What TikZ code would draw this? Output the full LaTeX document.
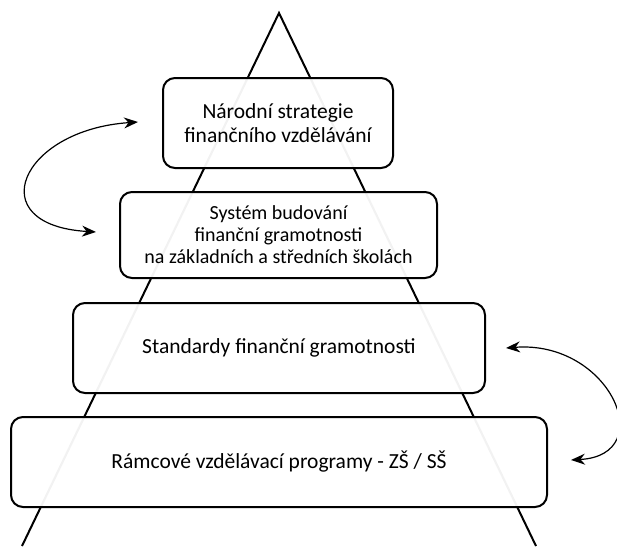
\documentclass[tikz,border=0pt]{standalone}
\usepackage{fontspec}
\setmainfont{Carlito}
\usetikzlibrary{arrows.meta}
\begin{document}
\begin{tikzpicture}[x=1pt,y=-1pt,
  level/.style={draw=black, line width=2pt, rounded corners=12pt, fill=white, fill opacity=0.95, text opacity=1, align=center, font=\fontsize{21.5}{24}\selectfont, inner sep=0pt},
  edge/.style={draw=black, line width=2pt},
  link/.style={draw=black, line width=1.2pt, {Stealth[length=14pt,width=11pt]}-{Stealth[length=14pt,width=11pt]}}]
\useasboundingbox (0,0) rectangle (617,546);
\coordinate (apex) at (279,13);
\coordinate (bl) at (22,546);
\coordinate (br) at (536,546);
\draw[edge] (bl) -- (apex) -- (br);
\node[level, minimum width=230pt, minimum height=90pt] (n1) at (278,123) {Národní strategie\\finančního vzdělávání};
\node[level, minimum width=317pt, minimum height=86pt, font=\fontsize{20}{22}\selectfont] (n2) at (278.5,235) {Systém budování\\finanční gramotnosti\\na základních a středních školách};
\node[level, minimum width=412pt, minimum height=90pt] (n3) at (279,348) {Standardy finanční gramotnosti};
\node[level, minimum width=536pt, minimum height=90pt] (n4) at (279,462) {Rámcové vzdělávací programy - ZŠ / SŠ};
\coordinate (a1) at (138,122);
\coordinate (a2) at (96,232);
\coordinate (b1) at (506,348);
\coordinate (b2) at (571,460);
\draw[link] (a1) .. controls (20,130) and (-20,225) .. (a2);
\draw[link] (b1) .. controls (610,340) and (660,455) .. (b2);
\end{tikzpicture}
\end{document}
